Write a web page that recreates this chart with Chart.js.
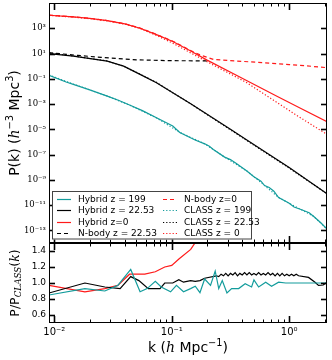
<!DOCTYPE html>
<html lang="en">
<head>
<meta charset="UTF-8">
<title>Power spectrum: Hybrid vs N-body vs CLASS</title>
<script src="https://cdn.jsdelivr.net/npm/chart.js"></script>
<style>
    body { margin: 0; background: #fff; }
    #wrap { position: relative; width: 332px; height: 360px; }
    #mainChart { position: absolute; left: 0; top: 0; }
    #ratioChart { position: absolute; left: 0; top: 240px; }
</style>
</head>
<body>
<div id="wrap">
    <canvas id="mainChart" width="332" height="244"></canvas>
    <canvas id="ratioChart" width="332" height="120"></canvas>
</div>

<script>
    /***************************
            DATA
    ***************************/

    // Hybrid z = 199
    const kHyb199 = [0.009, 0.0126, 0.0145, 0.020, 0.0282, 0.0355, 0.0447, 0.0562, 0.0741, 0.102, 0.117, 0.158, 0.191, 0.209, 0.226, 0.282, 0.316, 0.355, 0.436, 0.501, 0.575, 0.617, 0.676, 0.741, 0.813, 0.891, 1.00, 1.10, 1.26, 1.48, 1.62, 1.86, 2.10];
    const pHyb199 = [0.186, 0.0562, 0.0363, 0.0132, 4.27e-3, 1.91e-3, 7.76e-4, 3.02e-4, 8.13e-5, 1.82e-5, 5.6e-6, 1.41e-6, 7.1e-7, 4.5e-7, 2.5e-7, 6.3e-8, 4.0e-8, 2.0e-8, 5.0e-9, 1.78e-9, 7.9e-10, 3.5e-10, 2.5e-10, 1.26e-10, 4.0e-11, 2.5e-11, 1.41e-11, 7.1e-12, 4.5e-12, 2.5e-12, 1.26e-12, 4.0e-13, 1.26e-13];

    // Hybrid z = 22.53
    const kHyb22 = [0.009, 0.0145, 0.0282, 0.0389, 0.0537, 0.0741, 0.102, 0.145, 0.316, 0.436, 1.00, 2.10];
    const pHyb22 = [10, 6.3, 2.5, 1.0, 0.224, 0.049, 7.9e-3, 1.07e-3, 1.0e-5, 1.41e-6, 9.3e-9, 7.9e-11];

    // Hybrid z = 0
    const kHyb0 = [0.009, 0.0145, 0.020, 0.0282, 0.0398, 0.0537, 0.0741, 0.102, 0.145, 0.200, 0.398, 0.794, 1.26, 2.10];
    const pHyb0 = [1.07e4, 7.9e3, 6.0e3, 4.0e3, 2.24e3, 1.0e3, 316, 89, 15.8, 3.0, 0.112, 3.98e-3, 4.47e-4, 3.98e-5];

    // N-body z = 22.53
    const kNb22 = [0.009, 0.0158, 0.0251, 0.050, 0.100, 0.210];
    const pNb22 = [11.7, 7.1, 5.0, 3.16, 2.7, 2.63];

    // N-body z = 0
    const kNb0 = [0.009, 0.0145, 0.020, 0.0282, 0.0398, 0.0537, 0.0741, 0.102, 0.145, 0.178, 0.226, 0.316, 0.60, 1.00, 1.41, 2.10];
    const pNb0 = [1.1e4, 8.1e3, 6.1e3, 4.1e3, 2.3e3, 1.05e3, 330, 95, 17, 7.1, 3.47, 2.7, 1.9, 1.32, 1.05, 0.76];

    // CLASS (linear) spectra
    const kCls199 = [0.009, 0.0145, 0.0282, 0.0447, 0.0741, 0.117, 0.191, 0.282, 0.436, 0.617, 0.813, 1.00, 1.26, 1.62, 2.10];
    const pCls199 = [0.2, 0.038, 4.4e-3, 7.5e-4, 8.0e-5, 5.8e-6, 7.0e-7, 6.3e-8, 5.0e-9, 3.6e-10, 4.0e-11, 1.41e-11, 4.5e-12, 1.26e-12, 1.26e-13];
    const kCls22 = [0.009, 0.0145, 0.0282, 0.0389, 0.0537, 0.0741, 0.102, 0.145, 0.316, 0.436, 1.00, 2.10];
    const pCls22 = [11.4, 6.3, 2.6, 1.0, 0.23, 0.052, 7.9e-3, 1.04e-3, 9.1e-6, 1.28e-6, 8.5e-9, 7.9e-11];
    const kCls0 = [0.009, 0.0145, 0.020, 0.0282, 0.0398, 0.0537, 0.0741, 0.102, 0.145, 0.200, 0.436, 1.16, 2.10];
    const pCls0 = [1.05e4, 7.6e3, 5.75e3, 3.8e3, 2.14e3, 955, 269, 66, 11.2, 2.24, 0.049, 1.26e-4, 3.98e-6];

    // ratio P / P_CLASS
    const kRat199 = [0.009, 0.0182, 0.0269, 0.0347, 0.0447, 0.0537, 0.0617, 0.0724, 0.0813, 0.0977, 0.1096, 0.1259, 0.1445, 0.1585, 0.1738, 0.1905, 0.2138, 0.2344, 0.2512, 0.2692, 0.2951, 0.3236, 0.3715, 0.4217, 0.4786, 0.5012, 0.5495, 0.631, 0.7079, 0.8128, 0.9333, 2.10];
    const rRat199 = [0.85, 0.93, 0.90, 0.97, 1.17, 0.89, 0.93, 1.02, 0.95, 0.89, 0.97, 0.89, 0.93, 0.96, 0.88, 1.05, 0.97, 1.15, 0.93, 1.03, 0.875, 0.93, 0.93, 0.99, 0.95, 1.04, 0.95, 1.01, 0.96, 1.01, 1.0, 1.0];

    const kRat22 = [0.009, 0.0182, 0.0269, 0.0363, 0.0447, 0.0525, 0.0631, 0.0794, 0.0871, 0.102, 0.1148, 0.1259, 0.1445, 0.1585, 0.1738, 0.1905, 0.2399,
        0.2512, 0.2630, 0.2754, 0.2884, 0.3020, 0.3162, 0.3311, 0.3467, 0.3631, 0.3802, 0.3981, 0.4169, 0.4365, 0.4571, 0.4786, 0.5012, 0.5248, 0.5495,
        0.5754, 0.6026, 0.6310, 0.6607, 0.6918, 0.7244, 0.7586, 0.7943, 0.8318, 0.8710, 0.9120, 0.9550, 1.0, 1.047, 1.096, 1.148, 1.202,
        1.462, 1.66, 1.778, 1.95, 2.10];
    const rRat22 = [0.875, 1.0, 0.95, 0.93, 1.08, 1.03, 0.93, 0.93, 1.0, 1.0, 1.04, 1.01, 1.03, 1.02, 1.03, 1.06, 1.09,
        1.08, 1.11, 1.09, 1.12, 1.09, 1.12, 1.10, 1.13, 1.09, 1.12, 1.10, 1.13, 1.10, 1.13, 1.10, 1.12, 1.10, 1.13,
        1.10, 1.12, 1.10, 1.13, 1.10, 1.12, 1.09, 1.12, 1.09, 1.12, 1.09, 1.11, 1.09, 1.11, 1.09, 1.11, 1.09,
        1.07, 1.01, 0.97, 0.975, 1.01];

    const kRat0 = [0.009, 0.0182, 0.0269, 0.0347, 0.0437, 0.0589, 0.0724, 0.0871, 0.100, 0.115, 0.145, 0.166, 0.200];
    const rRat0 = [0.97, 0.89, 0.93, 0.97, 1.11, 1.11, 1.14, 1.20, 1.22, 1.30, 1.42, 1.55, 1.80];

    // ticks and labels
    const kMajor = [0.01, 0.1, 1];
    const kMajorLabels = ['10⁻²', '10⁻¹', '10⁰'];
    const kMinor = [0.02, 0.03, 0.04, 0.05, 0.06, 0.07, 0.08, 0.09, 0.2, 0.3, 0.4, 0.5, 0.6, 0.7, 0.8, 0.9, 2];
    const pTicks = [1e-13, 1e-11, 1e-9, 1e-7, 1e-5, 1e-3, 1e-1, 1e1, 1e3];
    const pTickLabels = ['10⁻¹³', '10⁻¹¹', '10⁻⁹', '10⁻⁷', '10⁻⁵', '10⁻³', '10⁻¹', '10¹', '10³'];
    const rTicks = [0.6, 0.8, 1.0, 1.2, 1.4];
    const rTickLabels = ['0.6', '0.8', '1.0', '1.2', '1.4'];

    const CYAN = '#139c9c';
    const RED = '#ff1a1a';
    const BLACK = '#000000';
    const DASH = [4, 3];
    const DOT = [1.2, 2];


    /***************************
            HELPERS
    ***************************/

    function series(ks, vs) {
        return ks.map((k, i) => ({ x: k, y: vs[i] }));
    }

    function line(label, ks, vs, color, dash) {
        return {
            label: label,
            data: series(ks, vs),
            borderColor: color,
            borderWidth: 1.2,
            borderDash: dash || [],
            pointRadius: 0,
            tension: 0,
            fill: false,
            clip: 0
        };
    }

    // draws a piece of text made of parts (italic, superscript, subscript)
    function drawRich(ctx, parts, x, y, size, vertical) {
        const fontOf = p => {
            const s = (p.sup || p.sub) ? size * 0.7 : size;
            return (p.it ? 'italic ' : '') + s + 'px ' + (p.it ? '"DejaVu Serif"' : '"DejaVu Sans"');
        };
        ctx.save();
        ctx.translate(x, y);
        if (vertical) ctx.rotate(-Math.PI / 2);
        ctx.fillStyle = '#000';
        ctx.textBaseline = 'alphabetic';
        ctx.textAlign = 'left';
        let total = 0;
        parts.forEach(p => { ctx.font = fontOf(p); total += ctx.measureText(p.t).width; });
        let cx = -total / 2;
        const base = size * 0.36;
        parts.forEach(p => {
            ctx.font = fontOf(p);
            let dy = 0;
            if (p.sup) dy = -size * 0.4;
            if (p.sub) dy = size * 0.22;
            ctx.fillText(p.t, cx, base + dy);
            cx += ctx.measureText(p.t).width;
        });
        ctx.restore();
    }

    // box around the chart area with inward ticks
    const frameTicks = {
        id: 'frameTicks',
        afterDatasetsDraw(chart, args, o) {
            const { ctx, chartArea: a } = chart;
            const xs = chart.scales.x, ys = chart.scales.y;
            const seg = (x1, y1, x2, y2, w) => {
                ctx.lineWidth = w;
                ctx.beginPath();
                ctx.moveTo(x1, y1);
                ctx.lineTo(x2, y2);
                ctx.stroke();
            };
            ctx.save();
            ctx.strokeStyle = '#000';
            ctx.lineWidth = 1;
            ctx.strokeRect(a.left + 0.5, a.top + 0.5, a.right - a.left - 1, a.bottom - a.top - 1);
            o.xMajor.forEach(v => {
                const x = Math.round(xs.getPixelForValue(v)) + 0.5;
                seg(x, a.top, x, a.top + 7, 1.6);
                seg(x, a.bottom, x, a.bottom - 7, 1.6);
            });
            o.xMinor.forEach(v => {
                const x = Math.round(xs.getPixelForValue(v)) + 0.5;
                seg(x, a.top, x, a.top + 3.5, 1);
                seg(x, a.bottom, x, a.bottom - 3.5, 1);
            });
            o.yMajor.forEach(v => {
                const y = Math.round(ys.getPixelForValue(v)) + 0.5;
                seg(a.left, y, a.left + 6, y, 1.6);
                seg(a.right, y, a.right - 6, y, 1.6);
            });
            ctx.restore();
        }
    };

    // two-column legend inside the lower left of the main panel
    const boxLegend = {
        id: 'boxLegend',
        afterDatasetsDraw(chart) {
            const { ctx, chartArea: a } = chart;
            const left = a.left + 3, top = a.bottom - 52, w = 200, h = 48.5;
            ctx.save();
            ctx.fillStyle = '#fff';
            ctx.fillRect(left, top, w, h);
            ctx.strokeStyle = '#444';
            ctx.lineWidth = 1;
            ctx.strokeRect(left + 0.5, top + 0.5, w - 1, h - 1);
            ctx.font = '9px "DejaVu Sans"';
            ctx.textBaseline = 'middle';
            ctx.fillStyle = '#000';
            chart.data.datasets.forEach((ds, i) => {
                const col = Math.floor(i / 4), row = i % 4;
                const hx = left + (col === 0 ? 5 : 111);
                const y = Math.round(top + 7.5 + row * 11.5) + 0.5;
                ctx.strokeStyle = ds.borderColor;
                ctx.lineWidth = 1.2;
                ctx.setLineDash(ds.borderDash);
                ctx.beginPath();
                ctx.moveTo(hx, y);
                ctx.lineTo(hx + 14, y);
                ctx.stroke();
                ctx.setLineDash([]);
                ctx.fillText(ds.label, hx + 21, y);
            });
            ctx.restore();
        }
    };

    const mainTitle = {
        id: 'mainTitle',
        afterDraw(chart) {
            drawRich(chart.ctx, [
                { t: 'P(k) (' }, { t: 'h', it: true }, { t: '−3', sup: true },
                { t: ' Mpc' }, { t: '3', sup: true }, { t: ')' }
            ], 14, 123, 14, true);
        }
    };

    const ratioTitles = {
        id: 'ratioTitles',
        afterDraw(chart) {
            drawRich(chart.ctx, [
                { t: 'P/P' }, { t: 'CLASS', it: true, sub: true }, { t: '(' }, { t: 'k', it: true }, { t: ')' }
            ], 14, 43, 12.5, true);
            drawRich(chart.ctx, [
                { t: 'k (' }, { t: 'h', it: true }, { t: ' Mpc' }, { t: '−1', sup: true }, { t: ')' }
            ], 188, 107, 14, false);
        }
    };

    function fixWidth(w) {
        return s => { s.width = w; s.paddingTop = 0; s.paddingBottom = 0; };
    }


    /***************************
            MAIN PANEL
    ***************************/

    new Chart(document.getElementById('mainChart'), {
        type: 'line',
        data: {
            datasets: [
                line('Hybrid z = 199', kHyb199, pHyb199, CYAN),
                line('Hybrid z = 22.53', kHyb22, pHyb22, BLACK),
                line('Hybrid z=0', kHyb0, pHyb0, RED),
                line('N-body z = 22.53', kNb22, pNb22, BLACK, DASH),
                line('N-body z=0', kNb0, pNb0, RED, DASH),
                line('CLASS z = 199', kCls199, pCls199, CYAN, DOT),
                line('CLASS z = 22.53', kCls22, pCls22, BLACK, DOT),
                line('CLASS z = 0', kCls0, pCls0, RED, DOT)
            ]
        },
        options: {
            responsive: false,
            animation: false,
            layout: { padding: { left: 0, right: 5, top: 3, bottom: 1 } },
            plugins: {
                legend: { display: false },
                tooltip: { enabled: false },
                frameTicks: { xMajor: kMajor, xMinor: kMinor, yMajor: pTicks }
            },
            scales: {
                x: { type: 'logarithmic', min: 0.009, max: 2.1, display: false },
                y: {
                    type: 'logarithmic',
                    min: 1e-14,
                    max: 1e5,
                    afterFit: fixWidth(49),
                    afterBuildTicks: s => { s.ticks = pTicks.map(v => ({ value: v })); },
                    ticks: {
                        autoSkip: false,
                        padding: 3,
                        color: '#000',
                        font: { family: 'DejaVu Serif', size: 8.5 },
                        callback: (v, i) => pTickLabels[i]
                    },
                    grid: { display: false, drawTicks: false },
                    border: { display: false }
                }
            }
        },
        plugins: [frameTicks, boxLegend, mainTitle]
    });


    /***************************
            RATIO PANEL
    ***************************/

    new Chart(document.getElementById('ratioChart'), {
        type: 'line',
        data: {
            datasets: [
                line('Hybrid z = 199', kRat199, rRat199, CYAN),
                line('Hybrid z = 22.53', kRat22, rRat22, BLACK),
                line('Hybrid z=0', kRat0, rRat0, RED)
            ]
        },
        options: {
            responsive: false,
            animation: false,
            layout: { padding: { left: 0, right: 5, top: 3, bottom: 0 } },
            plugins: {
                legend: { display: false },
                tooltip: { enabled: false },
                frameTicks: { xMajor: kMajor, xMinor: kMinor, yMajor: rTicks }
            },
            scales: {
                x: {
                    type: 'logarithmic',
                    min: 0.009,
                    max: 2.1,
                    afterFit: s => { s.height = 37; s.paddingLeft = 0; s.paddingRight = 0; },
                    afterBuildTicks: s => { s.ticks = kMajor.map(v => ({ value: v })); },
                    ticks: {
                        autoSkip: false,
                        maxRotation: 0,
                        padding: 3,
                        color: '#000',
                        font: { family: 'DejaVu Sans', size: 10 },
                        callback: (v, i) => kMajorLabels[i]
                    },
                    grid: { display: false, drawTicks: false },
                    border: { display: false }
                },
                y: {
                    type: 'linear',
                    min: 0.5,
                    max: 1.5,
                    afterFit: fixWidth(49),
                    afterBuildTicks: s => { s.ticks = rTicks.map(v => ({ value: v })); },
                    ticks: {
                        autoSkip: false,
                        padding: 3,
                        color: '#000',
                        font: { family: 'DejaVu Sans', size: 9 },
                        callback: (v, i) => rTickLabels[i]
                    },
                    grid: { display: false, drawTicks: false },
                    border: { display: false }
                }
            }
        },
        plugins: [frameTicks, ratioTitles]
    });
</script>
</body>
</html>
